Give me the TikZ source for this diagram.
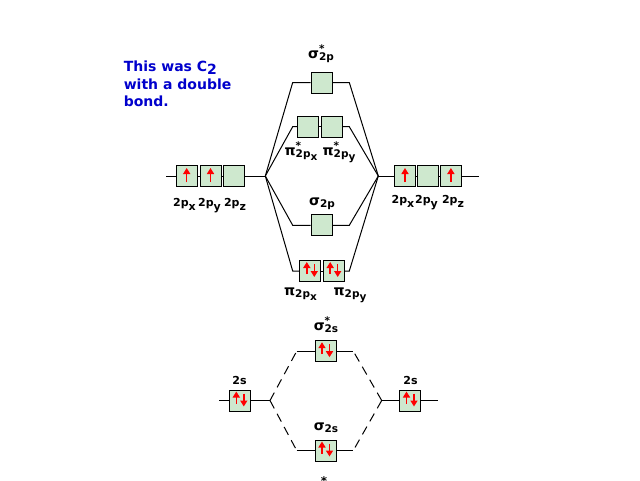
\documentclass[tikz,border=0pt]{standalone}
\usepackage{fontspec}
\setmainfont{DejaVu Sans}
\usetikzlibrary{arrows.meta}
\definecolor{boxgreen}{RGB}{206,232,206}
\definecolor{noteblue}{RGB}{0,0,204}
\newcommand{\mo}[3]{{\fontsize{14}{14}\selectfont #1}\rlap{\raisebox{6pt}{#2}}\raisebox{-2pt}{#3}}
\begin{document}
\begin{tikzpicture}[x=1pt,y=-1pt,line width=1pt,
  orb/.style={draw,fill=boxgreen,minimum width=21pt,minimum height=21pt,inner sep=0pt},
  spin/.style={red,line width=1.5pt,-{Triangle[length=6pt,width=7pt]}},
  lbl/.style={font=\fontsize{11}{11}\bfseries\selectfont,inner sep=0pt,anchor=base},
  mol/.style={font=\fontsize{10.5}{11}\bfseries\selectfont,inner sep=0pt,anchor=base},
  note/.style={font=\fontsize{14}{17}\bfseries\selectfont,text=noteblue,inner sep=0pt,anchor=base west},
  dash2s/.style={dash pattern=on 9pt off 6pt}]
\useasboundingbox (0,0) rectangle (640,480);
% note
\node[note] (t1) at (123.3,71.7) {This was C\raisebox{-3pt}{2}};
\node[note] (t2) at (123.3,89.2) {with a double};
\node[note] (t3) at (123.3,106.7) {bond.};
% 2p atoms
\node[orb] (px1) at (186.7,176) {};
\node[orb] (py1) at (210.5,176) {};
\node[orb] (pz1) at (233.7,176) {};
\node[orb] (px2) at (405,176) {};
\node[orb] (py2) at (427.5,176) {};
\node[orb] (pz2) at (450.9,176) {};
\coordinate (e1) at (166,176);
\coordinate (e2) at (479,176);
\coordinate (jl) at (265.3,176);
\coordinate (jr) at (378.3,176);
\draw (e1)--(px1) (px1)--(py1) (py1)--(pz1) (pz1)--(jl);
\draw (jr)--(px2) (px2)--(py2) (py2)--(pz2) (pz2)--(e2);
\node[lbl] (lx1) at (184.5,206.5) {2p\raisebox{-4pt}{x}};
\node[lbl] (ly1) at (209.5,206.5) {2p\raisebox{-4pt}{y}};
\node[lbl] (lz1) at (235,206.5) {2p\raisebox{-4pt}{z}};
\node[lbl] (lx2) at (403,203) {2p\raisebox{-4pt}{x}};
\node[lbl] (ly2) at (426.5,203) {2p\raisebox{-4pt}{y}};
\node[lbl] (lz2) at (453,203) {2p\raisebox{-4pt}{z}};
% 2p molecular levels
\node[orb] (sst) at (321.7,82.5) {};
\node[orb] (pstx) at (308.3,126.7) {};
\node[orb] (psty) at (331.5,126.7) {};
\node[orb] (sg) at (321.7,225.3) {};
\node[orb] (pix) at (310.3,271) {};
\node[orb] (piy) at (333.7,271) {};
\foreach \n/\a/\b/\y in {1/sst/sst/82.5, 2/pstx/psty/126.7, 3/sg/sg/225.3, 4/pix/piy/271}{
  \coordinate (u\n) at (292.7,\y);
  \coordinate (v\n) at (349.3,\y);
  \draw (jl)--(u\n)--(\a) (\b)--(v\n)--(jr);
}
\draw (pstx)--(psty) (pix)--(piy);
\node[mol] (lsst) at (321,58) {\mo{σ}{*}{2p}};
\node[mol] (lpstx) at (301,155) {\mo{π}{*}{2p\raisebox{-3pt}{x}}};
\node[mol] (lpsty) at (339,155) {\mo{π}{*}{2p\raisebox{-3pt}{y}}};
\node[mol] (lsg) at (322,205) {\mo{σ}{}{2p}};
\node[mol] (lpix) at (300.5,295) {\mo{π}{}{2p\raisebox{-3pt}{x}}};
\node[mol] (lpiy) at (350,295) {\mo{π}{}{2p\raisebox{-3pt}{y}}};
% 2s levels
\node[orb] (s1) at (239.8,400.5) {};
\node[orb] (s2) at (410,400.5) {};
\node[orb] (ssst) at (325.5,351.2) {};
\node[orb] (sssg) at (325.5,450.5) {};
\coordinate (f1) at (219.3,400.5);
\coordinate (f2) at (437.7,400.5);
\coordinate (kl) at (270,400.5);
\coordinate (kr) at (381.7,400.5);
\draw (f1)--(s1)--(kl) (kr)--(s2)--(f2);
\coordinate (w1) at (296.7,351.2);
\coordinate (w2) at (353.3,351.2);
\coordinate (w3) at (296.7,450.5);
\coordinate (w4) at (353.3,450.5);
\draw (w1)--(ssst)--(w2) (w3)--(sssg)--(w4);
\draw[dash2s] (kl)--(w1) (kl)--(w3) (kr)--(w2) (kr)--(w4);
\node[lbl] (ls1) at (239.5,384) {2s};
\node[lbl] (ls2) at (410.5,384) {2s};
\node[mol] (lssst) at (326,330) {\mo{σ}{*}{2s}};
\node[mol] (lsssg) at (326,430) {\mo{σ}{}{2s}};
\node[mol,anchor=north,font=\fontsize{12}{12}\bfseries\selectfont] (cut) at (324,476) {*};
% electrons
\foreach \o in {px1,py1,px2,pz2}
  \draw[spin] ([yshift=-6pt]\o.center)--([yshift=8pt]\o.center);
\foreach \o in {pix,piy,s1,s2,ssst,sssg}{
  \draw[spin] ([xshift=-3.5pt,yshift=-3pt]\o.center)--([xshift=-3.5pt,yshift=9pt]\o.center);
  \draw[spin] ([xshift=4pt,yshift=7pt]\o.center)--([xshift=4pt,yshift=-6pt]\o.center);
}
\end{tikzpicture}
\end{document}
